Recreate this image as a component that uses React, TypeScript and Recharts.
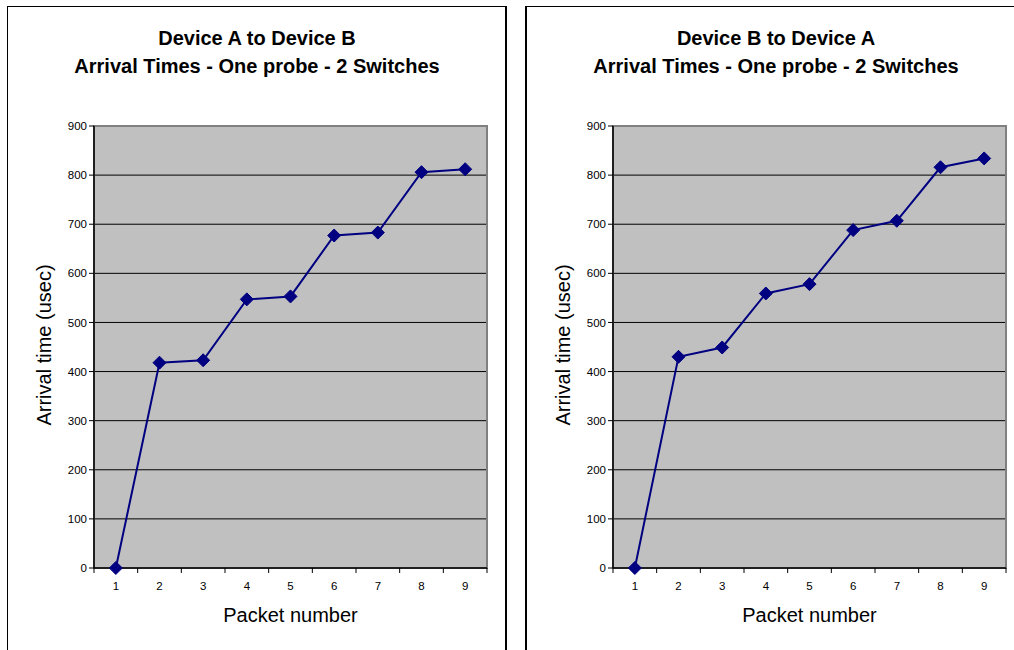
import React from "react";
import {
  CartesianGrid,
  Label,
  Line,
  LineChart,
  ReferenceArea,
  XAxis,
  YAxis,
} from "recharts";

const packets = [1, 2, 3, 4, 5, 6, 7, 8, 9];
const aToB = [0, 418, 423, 547, 553, 677, 683, 806, 812];
const bToA = [0, 430, 449, 559, 578, 688, 707, 816, 834];
const yTicks = [0, 100, 200, 300, 400, 500, 600, 700, 800, 900];

const FONT = '"Liberation Sans", Arial, sans-serif';
const NAVY = "#000080";

const CHART_W = 500;
const CHART_H = 644;
const MARGIN = { top: 120, right: 20, left: 47, bottom: 52 };
const PLOT_W = CHART_W - MARGIN.left - 40 - MARGIN.right;
const HALF_BAND = PLOT_W / packets.length / 2;

function XTick(props: any) {
  const { x, y, payload } = props;
  const axisY = y - 7;
  const last = payload.value === packets[packets.length - 1];
  return (
    <g>
      <line x1={x - HALF_BAND} x2={x - HALF_BAND} y1={axisY} y2={axisY + 5} stroke="#000" />
      {last && (
        <line x1={x + HALF_BAND} x2={x + HALF_BAND} y1={axisY} y2={axisY + 5} stroke="#000" />
      )}
      <text x={x} y={axisY + 22} textAnchor="middle" fontSize={11.5} fontFamily={FONT} fill="#000">
        {payload.value}
      </text>
    </g>
  );
}

function Diamond(props: any) {
  const { cx, cy, index } = props;
  if (cx == null || cy == null) return null;
  const r = 6.5;
  return (
    <polygon
      key={index}
      points={`${cx},${cy - r} ${cx + r},${cy} ${cx},${cy + r} ${cx - r},${cy}`}
      fill={NAVY}
      stroke={NAVY}
    />
  );
}

function ArrivalChart({ values }: { values: number[] }) {
  const data = packets.map((p, i) => ({ packet: p, time: values[i] }));
  return (
    <LineChart width={CHART_W} height={CHART_H} data={data} margin={MARGIN}>
      <CartesianGrid vertical={false} stroke="#000" fill="#C0C0C0" fillOpacity={1} />
      <ReferenceArea
        x1={0.5}
        x2={9.5}
        y1={0}
        y2={900}
        fill="none"
        stroke="#808080"
        strokeWidth={2}
      />
      <XAxis
        dataKey="packet"
        type="number"
        domain={[0.5, 9.5]}
        ticks={packets}
        interval={0}
        height={30}
        tickSize={5}
        tickLine={false}
        axisLine={{ stroke: "#000", strokeWidth: 1.5 }}
        tick={<XTick />}
      >
        <Label
          content={({ viewBox }: any) => (
            <text
              x={viewBox.x + viewBox.width / 2}
              y={viewBox.y + 54}
              textAnchor="middle"
              fontSize={20}
              fontFamily={FONT}
              fill="#000"
            >
              Packet number
            </text>
          )}
        />
      </XAxis>
      <YAxis
        domain={[0, 900]}
        ticks={yTicks}
        width={40}
        tickSize={5}
        interval={0}
        tick={{ fontSize: 11.5, fontFamily: FONT, fill: "#000" }}
        tickLine={{ stroke: "#000" }}
        axisLine={{ stroke: "#000", strokeWidth: 1.5 }}
      >
        <Label
          content={({ viewBox }: any) => {
            const x0 = viewBox.x - 3;
            const yc = viewBox.y + viewBox.height / 2 - 2;
            return (
              <text
                x={x0}
                y={yc}
                transform={`rotate(-90, ${x0}, ${yc})`}
                textAnchor="middle"
                fontSize={20}
                fontFamily={FONT}
                fill="#000"
              >
                Arrival time (usec)
              </text>
            );
          }}
        />
      </YAxis>
      <Line
        dataKey="time"
        stroke={NAVY}
        strokeWidth={2}
        dot={<Diamond />}
        activeDot={false}
        isAnimationActive={false}
      />
    </LineChart>
  );
}

function Title({ left, first }: { left: number; first: string }) {
  return (
    <div
      style={{
        position: "absolute",
        left,
        top: 24,
        width: 500,
        textAlign: "center",
        fontFamily: FONT,
        fontWeight: "bold",
        fontSize: 20,
        lineHeight: "28px",
        color: "#000",
      }}
    >
      <div>{first}</div>
      <div>Arrival Times - One probe - 2 Switches</div>
    </div>
  );
}

export default function App() {
  return (
    <div
      style={{
        position: "fixed",
        left: 0,
        top: 0,
        width: 1014,
        height: 650,
        overflow: "hidden",
        background: "#fff",
      }}
    >
      <div
        style={{
          position: "absolute",
          left: 7,
          top: 6,
          width: 500,
          height: 700,
          boxSizing: "border-box",
          borderTop: "1px solid #000",
          borderLeft: "1px solid #000",
          borderRight: "2px solid #000",
        }}
      />
      <div
        style={{
          position: "absolute",
          left: 525,
          top: 6,
          width: 500,
          height: 700,
          boxSizing: "border-box",
          borderTop: "1px solid #000",
          borderLeft: "2px solid #000",
        }}
      />
      <Title left={7} first="Device A to Device B" />
      <Title left={526} first="Device B to Device A" />
      <div style={{ position: "absolute", left: 7, top: 6 }}>
        <ArrivalChart values={aToB} />
      </div>
      <div style={{ position: "absolute", left: 526, top: 6 }}>
        <ArrivalChart values={bToA} />
      </div>
    </div>
  );
}
